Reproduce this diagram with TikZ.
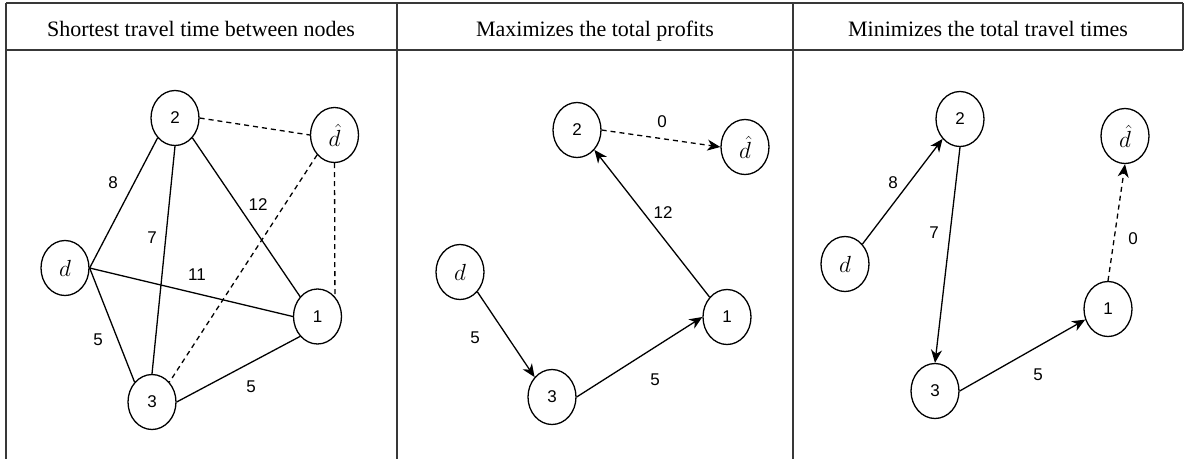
\documentclass[tikz,border=0pt]{standalone}
\usepackage{fontspec}
\setmainfont{Liberation Serif}
\setsansfont{Liberation Sans}
\usepackage{tikz}
\usetikzlibrary{positioning}
\usetikzlibrary{shapes.geometric}
\usetikzlibrary{arrows.meta}
\colorlet{gridcol}{black!78}
\newcommand{\depot}[1]{\scalebox{1.35}{$#1$}}
\tikzstyle{stop}=[draw, ellipse, line width=1.3, minimum width=48, minimum height=55, inner sep=0, font=\sffamily\fontsize{17}{17}\selectfont]
\tikzstyle{road}=[line width=1.3]
\tikzstyle{dummy}=[line width=1.3, dash pattern=on 5pt off 4pt]
\tikzstyle{cost}=[inner sep=1, font=\sffamily\fontsize{17}{17}\selectfont]
\tikzstyle{head}=[anchor=base, font=\fontsize{22}{26}\selectfont]
\tikzset{>={Stealth[length=13,width=11,inset=4]}}

\begin{document}
\begin{tikzpicture}[x=1pt, y=-1pt]

    \useasboundingbox (0,0) rectangle (1186,459);

    % Table frame and header row
    \draw[gridcol, line width=1.6] (6,3) -- (1183,3);
    \draw[gridcol, line width=1.6] (6,50) -- (1183,50);
    \draw[gridcol, line width=1.6] (1183,3) -- (1183,50);
    \foreach \x in {6, 397, 793} {
        \draw[gridcol, line width=1.6] (\x,3) -- (\x,459);
    }
    \node[head] (h1) at (201,36) {Shortest travel time between nodes};
    \node[head] (h2) at (595,36) {Maximizes the total profits};
    \node[head] (h3) at (988,36) {Minimizes the total travel times};

    % Nodes of the three panels: {name/x/y/label}
    \foreach \n/\x/\y/\txt in {
        a2/175/118/2, a1/317.5/316.5/1, a3/152/402/3,          % Panel a
        ad/65/268/{\depot{d}}, adh/334.5/135/{\depot{\hat{d}}},
        b2/577/130/2, b1/727/317/1, b3/552/397/3,              % Panel b
        bd/460/272/{\depot{d}}, bdh/745/147/{\depot{\hat{d}}},
        c2/960/119/2, c1/1108/309/1, c3/935/391/3,             % Panel c
        cd/845/264/{\depot{d}}, cdh/1125/136/{\depot{\hat{d}}}
    } {
        \node[stop] (\n) at (\x,\y) {\txt};
    }

    % Panel a: full graph
    \draw[road] (a2.south west) -- (ad.east);
    \draw[road] (a2.south) -- (a3.north);
    \draw[road] (a2.south east) -- (a1.north west);
    \draw[road] (ad.east) -- (a1.west);
    \draw[road] (ad.east) -- (a3.north west);
    \draw[road] (a3.east) -- (a1.south west);
    \draw[dummy] (a2.east) -- (adh.west);
    \draw[dummy] (adh.south west) -- (a3.north east);
    \draw[dummy] (adh.south) -- (a1.north east);
    \node[cost] (la8) at (113,183) {8};
    \node[cost] (la7) at (152,238) {7};
    \node[cost] (la12) at (258,205) {12};
    \node[cost] (la11) at (197,275) {11};
    \node[cost] (la5a) at (98,340) {5};
    \node[cost] (la5b) at (251,387) {5};

    % Panel b: profit route
    \draw[road, ->] (bd.south east) -- (b3.north west);
    \draw[road, ->] (b3.east) -- (b1.west);
    \draw[road, ->] (b1.north west) -- (b2.south east);
    \draw[dummy, ->] (b2.east) -- (bdh.west);
    \node[cost] (lb0) at (662,122) {0};
    \node[cost] (lb12) at (663,213) {12};
    \node[cost] (lb5a) at (475,338) {5};
    \node[cost] (lb5b) at (655,380) {5};

    % Panel c: travel time route
    \draw[road, ->] (cd.north east) -- (c2.south west);
    \draw[road, ->] (c2.south) -- (c3.north);
    \draw[road, ->] (c3.east) -- (c1.205);
    \draw[dummy, ->] (c1.north) -- (cdh.south);
    \node[cost] (lc8) at (893,183) {8};
    \node[cost] (lc7) at (934,233) {7};
    \node[cost] (lc0) at (1133,239) {0};
    \node[cost] (lc5) at (1038,375) {5};

\end{tikzpicture}
\end{document}
